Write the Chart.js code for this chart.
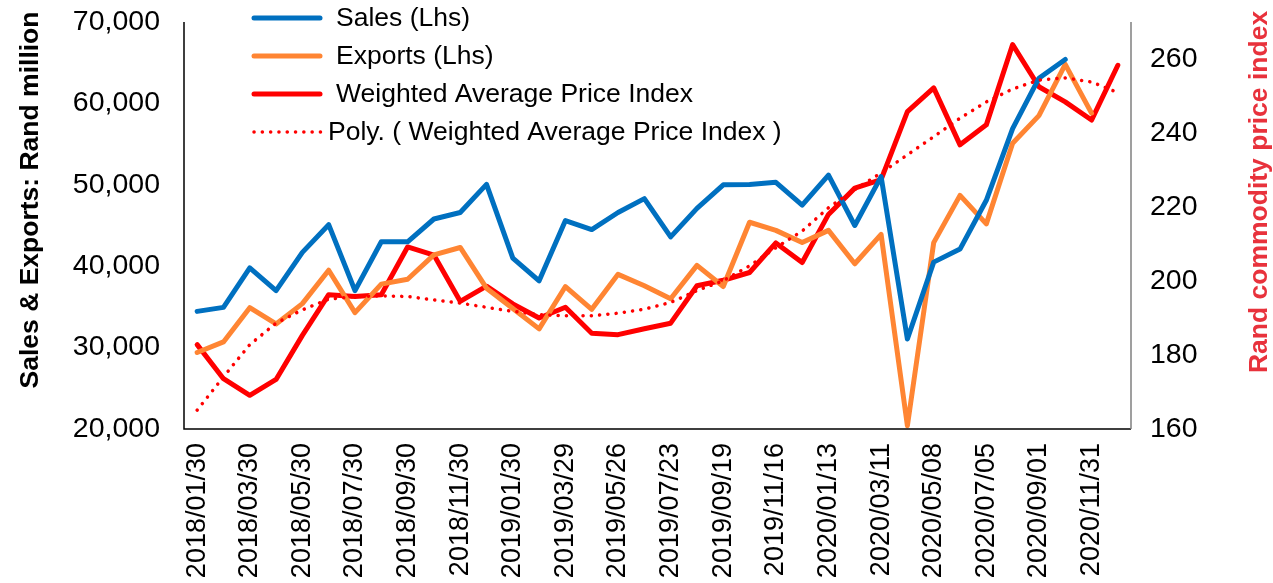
<!DOCTYPE html>
<html>
<head>
<meta charset="utf-8">
<script src="https://cdn.jsdelivr.net/npm/chart.js@4.4.1/dist/chart.umd.min.js"></script>
<style>
  html, body { margin: 0; padding: 0; background: #ffffff; }
  #wrap { width: 1273px; height: 583px; position: relative; }
</style>
</head>
<body>
<div id="wrap"><canvas id="c" width="1273" height="583"></canvas></div>
<script>
// Tick labels shown on the x axis (every second month)
const tickLabels = ["2018/01/30","2018/03/30","2018/05/30","2018/07/30","2018/09/30","2018/11/30",
  "2019/01/30","2019/03/29","2019/05/26","2019/07/23","2019/09/19","2019/11/16",
  "2020/01/13","2020/03/11","2020/05/08","2020/07/05","2020/09/01","2020/11/31"];
// 36 monthly categories, labelled every second one
const categories = [];
tickLabels.forEach(t => { categories.push(t); categories.push(""); });

const sales = [34450,34940,39790,37000,41700,45100,37000,43000,43000,45800,46600,50050,
  41000,38200,45600,44500,46600,48300,43600,47100,50000,50050,50300,47500,
  51200,45000,51000,31050,40500,42100,48100,56900,63100,65400,null,null];
const exportsLhs = [29400,30700,34900,32900,35400,39500,34300,37800,38400,41400,42300,37300,
  34800,32300,37500,34700,39000,37600,36000,40100,37500,45400,44400,42900,
  44400,40300,43900,20400,42900,48700,45200,55100,58500,64800,58800,null];
const priceIndex = [182.8,173.6,169.1,173.4,185.3,196.3,195.8,196.3,209.2,207.0,194.5,198.6,
  193.8,190.0,192.9,185.9,185.5,187.1,188.6,198.7,200.2,202.3,210.3,205.0,
  218.0,225.1,227.4,245.8,252.2,236.8,242.2,263.9,252.5,248.4,243.5,258.3];
const polyTrend = [165.1,174.1,182.8,188.6,192.2,195.1,195.8,196.0,195.8,194.9,194.0,192.9,
  191.8,190.9,190.6,190.6,191.3,192.4,194.2,197.4,200.1,204.1,209.0,213.5,
  219.8,224.7,229.2,234.1,239.0,244.0,248.4,251.9,254.3,254.9,253.8,250.9];

const leftTicks = [20000,30000,40000,50000,60000,70000];
const rightTicks = [160,180,200,220,240,260];

const FONT = "'Liberation Sans', Arial, sans-serif";
const BLUE = '#0070C0', ORANGE = '#FF8533', RED = '#FF0000', TITLE_RED = '#E8323C';

const legendItems = [
  { text: 'Sales (Lhs)', color: BLUE, dash: [] },
  { text: 'Exports (Lhs)', color: ORANGE, dash: [] },
  { text: 'Weighted Average Price Index', color: RED, dash: [] },
  { text: 'Poly. ( Weighted Average Price Index )', color: RED, dash: [0.1, 8.2], dotted: true }
];

const customDraw = {
  id: 'customDraw',
  afterDraw(chart) {
    const ctx = chart.ctx;
    const ca = chart.chartArea;
    ctx.save();
    // axis lines
    ctx.lineCap = 'butt';
    ctx.strokeStyle = '#000000';
    ctx.lineWidth = 1.5;
    ctx.beginPath();
    ctx.moveTo(ca.left, ca.top);
    ctx.lineTo(ca.left, ca.bottom);
    ctx.lineTo(ca.right, ca.bottom);
    ctx.stroke();
    ctx.strokeStyle = '#7f7f7f';
    ctx.beginPath();
    ctx.moveTo(ca.right, ca.top);
    ctx.lineTo(ca.right, ca.bottom);
    ctx.stroke();

    // legend
    let y = 18;
    legendItems.forEach(it => {
      ctx.save();
      ctx.strokeStyle = it.color;
      ctx.lineCap = 'round';
      if (it.dotted) {
        ctx.lineWidth = 3.5;
        ctx.setLineDash(it.dash);
        ctx.beginPath(); ctx.moveTo(254, y); ctx.lineTo(322, y); ctx.stroke();
      } else {
        ctx.lineWidth = 5;
        ctx.beginPath(); ctx.moveTo(254, y); ctx.lineTo(320, y); ctx.stroke();
      }
      ctx.restore();
      ctx.fillStyle = '#000000';
      ctx.font = '26.5px ' + FONT;
      ctx.textBaseline = 'middle';
      ctx.textAlign = 'left';
      ctx.fillText(it.text, it.dotted ? 328 : 336, y + 1);
      y += 38;
    });

    // left axis title
    ctx.save();
    ctx.translate(31, 200);
    ctx.rotate(-Math.PI / 2);
    ctx.font = 'bold 26.5px ' + FONT;
    ctx.fillStyle = '#000000';
    ctx.textAlign = 'center';
    ctx.textBaseline = 'middle';
    ctx.fillText('Sales & Exports: Rand million', 0, 0);
    ctx.restore();

    // right axis title
    ctx.save();
    ctx.translate(1260, 192);
    ctx.rotate(-Math.PI / 2);
    ctx.font = 'bold 26.5px ' + FONT;
    ctx.fillStyle = TITLE_RED;
    ctx.textAlign = 'center';
    ctx.textBaseline = 'middle';
    ctx.fillText('Rand commodity price index', 0, 0);
    ctx.restore();
    ctx.restore();
  }
};

const ds = (label, data, color, axis, extra) => Object.assign({
  label, data, borderColor: color, backgroundColor: color, yAxisID: axis,
  borderWidth: 5, pointRadius: 0, pointHoverRadius: 0, tension: 0, fill: false,
  borderJoinStyle: 'round', borderCapStyle: 'round', spanGaps: false
}, extra || {});

new Chart(document.getElementById('c'), {
  type: 'line',
  data: {
    labels: categories,
    datasets: [
      ds('Poly. ( Weighted Average Price Index )', polyTrend, RED, 'y2', { borderWidth: 3.5, borderDash: [0.1, 8.2] }),
      ds('Sales (Lhs)', sales, BLUE, 'y'),
      ds('Exports (Lhs)', exportsLhs, ORANGE, 'y'),
      ds('Weighted Average Price Index', priceIndex, RED, 'y2')
    ]
  },
  options: {
    responsive: false,
    animation: false,
    layout: { padding: { top: 22, left: 0, right: 0, bottom: 0 } },
    plugins: { legend: { display: false }, tooltip: { enabled: false } },
    scales: {
      x: {
        type: 'category',
        offset: true,
        grid: { display: false, drawTicks: false },
        border: { display: false },
        ticks: {
          autoSkip: false, maxRotation: 90, minRotation: 90, padding: 14,
          color: '#000000', font: { family: FONT, size: 27 },
          callback: function (v, i) { return categories[i]; }
        },
        afterFit: s => { s.height = 154; }
      },
      y: {
        position: 'left', min: 20000, max: 70000,
        grid: { display: false, drawTicks: false },
        border: { display: false },
        afterBuildTicks: s => { s.ticks = leftTicks.map(v => ({ value: v })); },
        ticks: {
          padding: 24, color: '#000000', font: { family: FONT, size: 28.5 },
          callback: v => v.toLocaleString('en-US')
        },
        afterFit: s => { s.width = 184; s.paddingTop = 0; s.paddingBottom = 0; }
      },
      y2: {
        position: 'right', min: 160, max: 270,
        grid: { display: false, drawTicks: false },
        border: { display: false },
        afterBuildTicks: s => { s.ticks = rightTicks.map(v => ({ value: v })); },
        ticks: {
          padding: 19, color: '#000000', font: { family: FONT, size: 28.5 }
        },
        afterFit: s => { s.width = 142; s.paddingTop = 0; s.paddingBottom = 0; }
      }
    }
  },
  plugins: [customDraw]
});
</script>
</body>
</html>
